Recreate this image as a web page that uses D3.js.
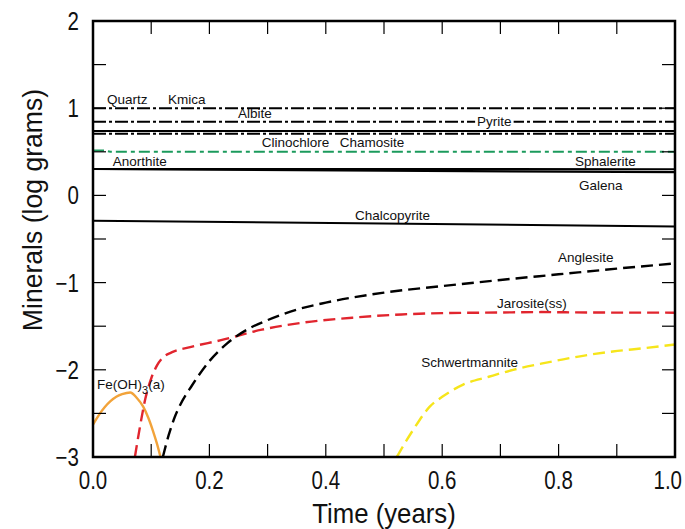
<!DOCTYPE html>
<html><head><meta charset="utf-8">
<script src="https://cdn.jsdelivr.net/npm/d3@7"></script>
<style>body{margin:0;background:#fff}svg{display:block}</style>
</head><body>
<svg id="chart" width="685" height="529"></svg>
<script>
// ---- data (time in years, log grams) ----
const quartzKmica   = [[0, 1.0], [1, 1.0]];
const albitePyrite  = [[0, 0.845], [1, 0.845]];
const clinochlore   = [[0, 0.738], [1, 0.738]];
const chamosite     = [[0, 0.706], [1, 0.706]];
const anorthite     = [[0, 0.515], [0.02, 0.515], [0.03, 0.50], [1, 0.50]];
const sphalerite    = [[0, 0.303], [1, 0.300]];
const galena        = [[0, 0.303], [1, 0.266]];
const chalcopyrite  = [[0, -0.29], [1, -0.357]];
const anglesite = [[0.12,-3.0],[0.13,-2.75],[0.14,-2.55],[0.15,-2.40],[0.17,-2.18],[0.20,-1.90],[0.23,-1.70],[0.27,-1.52],[0.30,-1.43],[0.35,-1.31],[0.40,-1.23],[0.50,-1.115],[0.60,-1.04],[0.70,-0.97],[0.80,-0.905],[0.90,-0.84],[1.0,-0.78]];
const jarosite = [[0.072,-3.0],[0.08,-2.68],[0.09,-2.33],[0.10,-2.10],[0.11,-1.95],[0.12,-1.86],[0.135,-1.80],[0.167,-1.74],[0.22,-1.66],[0.29,-1.54],[0.36,-1.46],[0.45,-1.40],[0.53,-1.365],[0.60,-1.35],[0.70,-1.343],[0.77,-1.338],[0.85,-1.343],[1.0,-1.345]];
const feOH3 = [[0,-2.63],[0.01,-2.52],[0.02,-2.43],[0.03,-2.36],[0.04,-2.31],[0.05,-2.28],[0.064,-2.26],[0.075,-2.32],[0.086,-2.42],[0.095,-2.55],[0.103,-2.70],[0.11,-2.85],[0.116,-3.0]];
const schwertmannite = [[0.522,-3.0],[0.535,-2.85],[0.55,-2.69],[0.579,-2.42],[0.60,-2.31],[0.636,-2.17],[0.68,-2.08],[0.722,-2.0],[0.77,-1.93],[0.808,-1.88],[0.85,-1.83],[0.893,-1.79],[0.95,-1.75],[1.0,-1.71]];

const xTicks = [0,0.1,0.2,0.3,0.4,0.5,0.6,0.7,0.8,0.9,1.0];
const xTickLabels = [0,0.2,0.4,0.6,0.8,1.0];
const yTicks = [-3,-2.5,-2,-1.5,-1,-0.5,0,0.5,1,1.5,2];
const yTickLabels = [-3,-2,-1,0,1,2];

const labelNames = ["Quartz","Kmica","Albite","Pyrite","Clinochlore","Chamosite","Anorthite","Sphalerite","Galena","Chalcopyrite","Anglesite","Jarosite(ss)","Schwertmannite","Fe(OH)3(a)"];
const labelT = [0.024,0.129,0.249,0.660,0.290,0.424,0.034,0.828,0.835,0.450,0.799,0.694,0.564,0.007];
const labelV = [1.048,1.048,0.888,0.796,0.556,0.556,0.338,0.338,0.063,-0.281,-0.762,-1.289,-1.964,-2.216];

// ---- layout ----
const W = 685, H = 529;
const m = {left: 93, right: 10, top: 21, bottom: 72};
const svg = d3.select("#chart");
const x = d3.scaleLinear().domain([0,1]).range([m.left, W - m.right]);
const y = d3.scaleLinear().domain([-3,2]).range([H - m.bottom, m.top]);

svg.append("clipPath").attr("id","clip").append("rect")
  .attr("x", m.left).attr("y", m.top).attr("width", x(1)-x(0)).attr("height", y(-3)-y(2));

const line = d3.line().x(d => x(d[0])).y(d => y(d[1]));
const curve = d3.line().x(d => x(d[0])).y(d => y(d[1])).curve(d3.curveMonotoneX);

const dashDot = "13,3,3,3";
const styles = [
  {data: quartzKmica, color: "#000", w: 2, dash: dashDot},
  {data: albitePyrite, color: "#000", w: 2, dash: dashDot},
  {data: clinochlore, color: "#000", w: 2, dash: null},
  {data: chamosite, color: "#000", w: 2, dash: dashDot},
  {data: anorthite, color: "#1b9a5c", w: 2, dash: "11,4,4,4"},
  {data: sphalerite, color: "#000", w: 2.2, dash: null},
  {data: galena, color: "#000", w: 2.2, dash: null},
  {data: chalcopyrite, color: "#000", w: 2, dash: null},
];
const g = svg.append("g").attr("clip-path","url(#clip)");
styles.forEach(s => {
  g.append("path").attr("d", line(s.data)).attr("fill","none")
    .attr("stroke", s.color).attr("stroke-width", s.w)
    .attr("stroke-dasharray", s.dash);
});
const curves = [
  {data: feOH3, color: "#f2a33a", w: 2.4, dash: null},
  {data: jarosite, color: "#e1252e", w: 2.4, dash: "12,6"},
  {data: anglesite, color: "#000", w: 2.4, dash: "12,6"},
  {data: schwertmannite, color: "#f6e51b", w: 2.4, dash: "12,6"},
];
curves.forEach(s => {
  g.append("path").attr("d", curve(s.data)).attr("fill","none")
    .attr("stroke", s.color).attr("stroke-width", s.w)
    .attr("stroke-dasharray", s.dash);
});

// labels
const lf = "'Liberation Sans', Arial, sans-serif";
labelNames.forEach((n, i) => {
  const t = svg.append("text").attr("x", x(labelT[i])).attr("y", y(labelV[i]))
    .attr("font-family", lf).attr("font-size", 13.5).attr("fill", "#111");
  if (n === "Fe(OH)3(a)") {
    t.append("tspan").text("Fe(OH)");
    t.append("tspan").attr("dy", 5).attr("font-size", 11).text("3");
    t.append("tspan").attr("dy", -5).text("(a)");
  } else {
    t.text(n);
  }
  if (n === "Pyrite") {
    const b = t.node().getBBox();
    svg.insert("rect", () => t.node()).attr("x", b.x - 2).attr("y", b.y + 2)
      .attr("width", b.width + 4).attr("height", b.height - 4).attr("fill", "#fff");
  }
});

// axes (ticks inward)
const tl = 13;
const axG = svg.append("g").attr("stroke", "#000").attr("stroke-width", 1.2);
xTicks.forEach(v => {
  axG.append("line").attr("x1", x(v)).attr("x2", x(v)).attr("y1", y(-3)).attr("y2", y(-3) - tl);
  axG.append("line").attr("x1", x(v)).attr("x2", x(v)).attr("y1", y(2)).attr("y2", y(2) + tl);
});
yTicks.forEach(v => {
  axG.append("line").attr("x1", x(0)).attr("x2", x(0) + tl).attr("y1", y(v)).attr("y2", y(v));
  axG.append("line").attr("x1", x(1)).attr("x2", x(1) - tl).attr("y1", y(v)).attr("y2", y(v));
});
svg.append("rect").attr("x", x(0)).attr("y", y(2)).attr("width", x(1)-x(0)).attr("height", y(-3)-y(2))
  .attr("fill","none").attr("stroke","#000").attr("stroke-width", 2.5);

const tf = "'Liberation Sans', Arial, sans-serif";
function condText(px, py, anchor, size, sx, str, rot) {
  const gg = svg.append("g").attr("transform", `translate(${px},${py})` + (rot ? ` rotate(${rot})` : "") + ` scale(${sx},1)`);
  gg.append("text").attr("text-anchor", anchor).attr("font-family", tf)
    .attr("font-size", size).attr("fill", "#111").text(str);
}
xTickLabels.forEach(v => {
  const isLast = v === 1.0;
  condText(isLast ? 682 : x(v), 489, isLast ? "end" : "middle", 25, 0.82, d3.format(".1f")(v));
});
yTickLabels.forEach(v => {
  condText(79, y(v) + 9, "end", 25, 0.82, String(v).replace("-", "\u2212"));
});
condText(x(0.5), 523, "middle", 28, 0.92, "Time (years)");
condText(42, 210, "middle", 28, 0.95, "Minerals (log grams)", -90);
</script>
</body></html>
